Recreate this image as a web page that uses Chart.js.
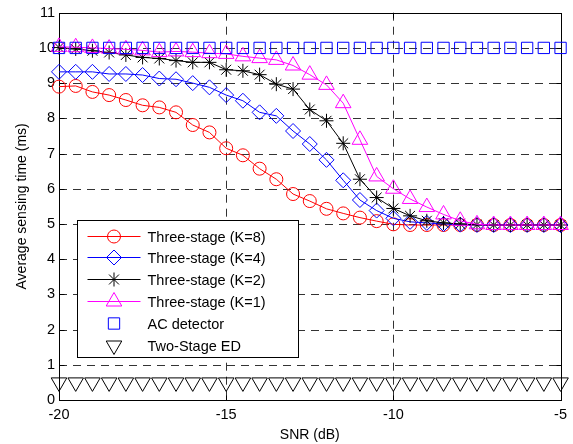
<!DOCTYPE html>
<html><head><meta charset="utf-8">
<script src="https://cdn.jsdelivr.net/npm/chart.js"></script>
<style>html,body{margin:0;padding:0;background:#fff;}canvas{display:block;}</style>
</head><body>
<canvas id="c" width="573" height="444"></canvas>
<script>
const snr = [-20,-19.5,-19,-18.5,-18,-17.5,-17,-16.5,-16,-15.5,-15,-14.5,-14,-13.5,-13,-12.5,-12,-11.5,-11,-10.5,-10,-9.5,-9,-8.5,-8,-7.5,-7,-6.5,-6,-5.5,-5];
const threeK8 = [8.90,8.92,8.75,8.66,8.52,8.37,8.31,8.17,7.81,7.60,7.15,6.95,6.57,6.27,5.85,5.65,5.43,5.30,5.18,5.08,4.99,4.97,4.97,4.97,4.97,4.97,4.97,4.97,4.97,4.97,4.97];
const threeK4 = [9.32,9.32,9.32,9.26,9.26,9.23,9.13,9.11,9.00,8.88,8.66,8.50,8.17,8.07,7.64,7.27,6.82,6.24,5.68,5.38,5.16,5.06,5.03,5.00,4.98,4.97,4.97,4.97,4.97,4.97,4.97];
const threeK2 = [10.01,9.97,9.92,9.87,9.80,9.73,9.70,9.64,9.59,9.59,9.38,9.35,9.24,8.97,8.83,8.25,7.93,7.29,6.27,5.75,5.44,5.23,5.09,5.03,5.00,4.98,4.97,4.97,4.97,4.97,4.97];
const threeK1 = [10.03,10.02,10.00,9.98,9.96,9.93,9.88,9.90,9.88,9.85,9.83,9.76,9.71,9.66,9.50,9.24,8.95,8.43,7.39,6.35,6.00,5.71,5.48,5.27,5.09,4.99,4.97,4.97,4.97,4.97,4.97];
const acDetector = [10,10,10,10,10,10,10,10,10,10,10,10,10,10,10,10,10,10,10,10,10,10,10,10,10,10,10,10,10,10,10];
const twoStageED = [0.5,0.5,0.5,0.5,0.5,0.5,0.5,0.5,0.5,0.5,0.5,0.5,0.5,0.5,0.5,0.5,0.5,0.5,0.5,0.5,0.5,0.5,0.5,0.5,0.5,0.5,0.5,0.5,0.5,0.5,0.5];
const seriesLabels = ['Three-stage (K=8)','Three-stage (K=4)','Three-stage (K=2)','Three-stage (K=1)','AC detector','Two-Stage ED'];
const xTickValues = [-20,-15,-10,-5];
const yTickValues = [0,1,2,3,4,5,6,7,8,9,10,11];
const xGridValues = [-15,-10];
const yGridValues = [1,2,3,4,5,6,7,8,9,10];

const FONT = "'Liberation Sans', Arial, Helvetica, sans-serif";

function mk(label, data, color, style, radius, showLine, order, rotation) {
  return {
    label, data: snr.map((x, i) => ({x, y: data[i]})),
    borderColor: color, backgroundColor: 'rgba(0,0,0,0)',
    pointStyle: style, pointRadius: radius, pointHoverRadius: radius,
    pointBorderColor: color, pointBackgroundColor: 'rgba(0,0,0,0)',
    pointBorderWidth: 1, borderWidth: 1, showLine, order,
    pointRotation: rotation || 0, tension: 0, clip: false
  };
}

const datasets = [
  mk(seriesLabels[0], threeK8, '#ff0000', 'circle', 6.5, true, 6),
  mk(seriesLabels[1], threeK4, '#0000ff', 'rectRot', 7.5, true, 5),
  mk(seriesLabels[2], threeK2, '#000000', 'star', 7, true, 4),
  mk(seriesLabels[3], threeK1, '#ff00ff', 'triangle', 9, true, 3),
  mk(seriesLabels[4], acDetector, '#0000ff', 'rect', 8, false, 2),
  mk(seriesLabels[5], twoStageED, '#000000', 'triangle', 9, false, 1, 180)
];

const framePlugin = {
  id: 'frame',
  beforeDatasetsDraw(chart) {
    const {ctx, chartArea: a, scales: {x, y}} = chart;
    ctx.save();
    ctx.lineWidth = 1;
    ctx.strokeStyle = 'rgba(0,0,0,0.8)';
    ctx.setLineDash([8, 6]);
    yGridValues.forEach(v => {
      const py = Math.round(y.getPixelForValue(v)) + 0.5;
      ctx.beginPath(); ctx.moveTo(a.left, py); ctx.lineTo(a.right, py); ctx.stroke();
    });
    xGridValues.forEach(v => {
      const px = Math.round(x.getPixelForValue(v)) + 0.5;
      ctx.beginPath(); ctx.moveTo(px, a.top); ctx.lineTo(px, a.bottom); ctx.stroke();
    });
    ctx.setLineDash([]);
    ctx.strokeStyle = '#000';
    const L = Math.round(a.left) + 0.5, R = Math.round(a.right) + 0.5, T = Math.round(a.top) + 0.5, B = Math.round(a.bottom) + 0.5;
    ctx.strokeRect(L, T, R - L, B - T);
    const tl = 5;
    ctx.beginPath();
    yTickValues.forEach(v => {
      const py = Math.round(y.getPixelForValue(v)) + 0.5;
      ctx.moveTo(L, py); ctx.lineTo(L + tl, py);
      ctx.moveTo(R, py); ctx.lineTo(R - tl, py);
    });
    xTickValues.forEach(v => {
      const px = Math.round(x.getPixelForValue(v)) + 0.5;
      ctx.moveTo(px, B); ctx.lineTo(px, B - tl);
      ctx.moveTo(px, T); ctx.lineTo(px, T + tl);
    });
    ctx.stroke();
    ctx.restore();
  }
};

function drawMarker(ctx, ds, cx, cy) {
  const opts = {pointStyle: ds.pointStyle, radius: ds.pointRadius, rotation: ds.pointRotation || 0, borderWidth: 1};
  if (Chart.helpers && Chart.helpers.drawPoint) {
    Chart.helpers.drawPoint(ctx, opts, cx, cy);
  }
}

const legendPlugin = {
  id: 'boxLegend',
  afterDatasetsDraw(chart) {
    const {ctx, chartArea: a} = chart;
    const bx = Math.round(a.left) + 18.5, by = Math.round(a.bottom) - 180 + 0.5;
    const bw = 221, bh = 137;
    ctx.save();
    ctx.fillStyle = '#fff';
    ctx.fillRect(bx, by, bw, bh);
    ctx.strokeStyle = '#000'; ctx.lineWidth = 1; ctx.setLineDash([]);
    ctx.strokeRect(bx, by, bw, bh);
    const rowH = 21.8;
    chart.data.datasets.forEach((ds, i) => {
      const cy = Math.round(by + 15 + i * rowH) + 0.5;
      ctx.strokeStyle = ds.borderColor;
      ctx.fillStyle = 'rgba(0,0,0,0)';
      ctx.lineWidth = 1;
      if (ds.showLine) {
        ctx.beginPath(); ctx.moveTo(bx + 10, cy); ctx.lineTo(bx + 63, cy); ctx.stroke();
      }
      drawMarker(ctx, ds, bx + 36.5, cy);
      ctx.fillStyle = '#000';
      ctx.font = '14.5px ' + FONT;
      ctx.textBaseline = 'middle';
      ctx.textAlign = 'left';
      ctx.fillText(ds.label, bx + 70, cy + 1);
    });
    ctx.restore();
  }
};

new Chart(document.getElementById('c'), {
  type: 'scatter',
  data: {datasets},
  options: {
    responsive: false, animation: false, devicePixelRatio: 1,
    layout: {autoPadding: false, padding: {top: 10, right: 11, left: 0, bottom: 0}},
    plugins: {legend: {display: false}, tooltip: {enabled: false}},
    scales: {
      x: {
        type: 'linear', min: -20, max: -5,
        afterBuildTicks(s) { s.ticks = xTickValues.map(v => ({value: v})); },
        afterFit(s) { s.height = 44; },
        grid: {display: false, drawTicks: false},
        border: {display: false},
        ticks: {color: '#000', font: {family: FONT, size: 14.5}, padding: 6, maxRotation: 0},
        title: {display: true, text: 'SNR (dB)', color: '#000', font: {family: FONT, size: 14}, padding: {top: 0, bottom: 0}}
      },
      y: {
        type: 'linear', min: 0, max: 11,
        afterBuildTicks(s) { s.ticks = yTickValues.map(v => ({value: v})); },
        afterFit(s) { s.width = 59; },
        grid: {display: false, drawTicks: false},
        border: {display: false},
        ticks: {color: '#000', font: {family: FONT, size: 14.5}, padding: 4},
        title: {display: true, text: 'Average sensing time (ms)', color: '#000', font: {family: FONT, size: 14}, padding: {top: 14, bottom: 0}}
      }
    }
  },
  plugins: [framePlugin, legendPlugin]
});
</script>
</body></html>
